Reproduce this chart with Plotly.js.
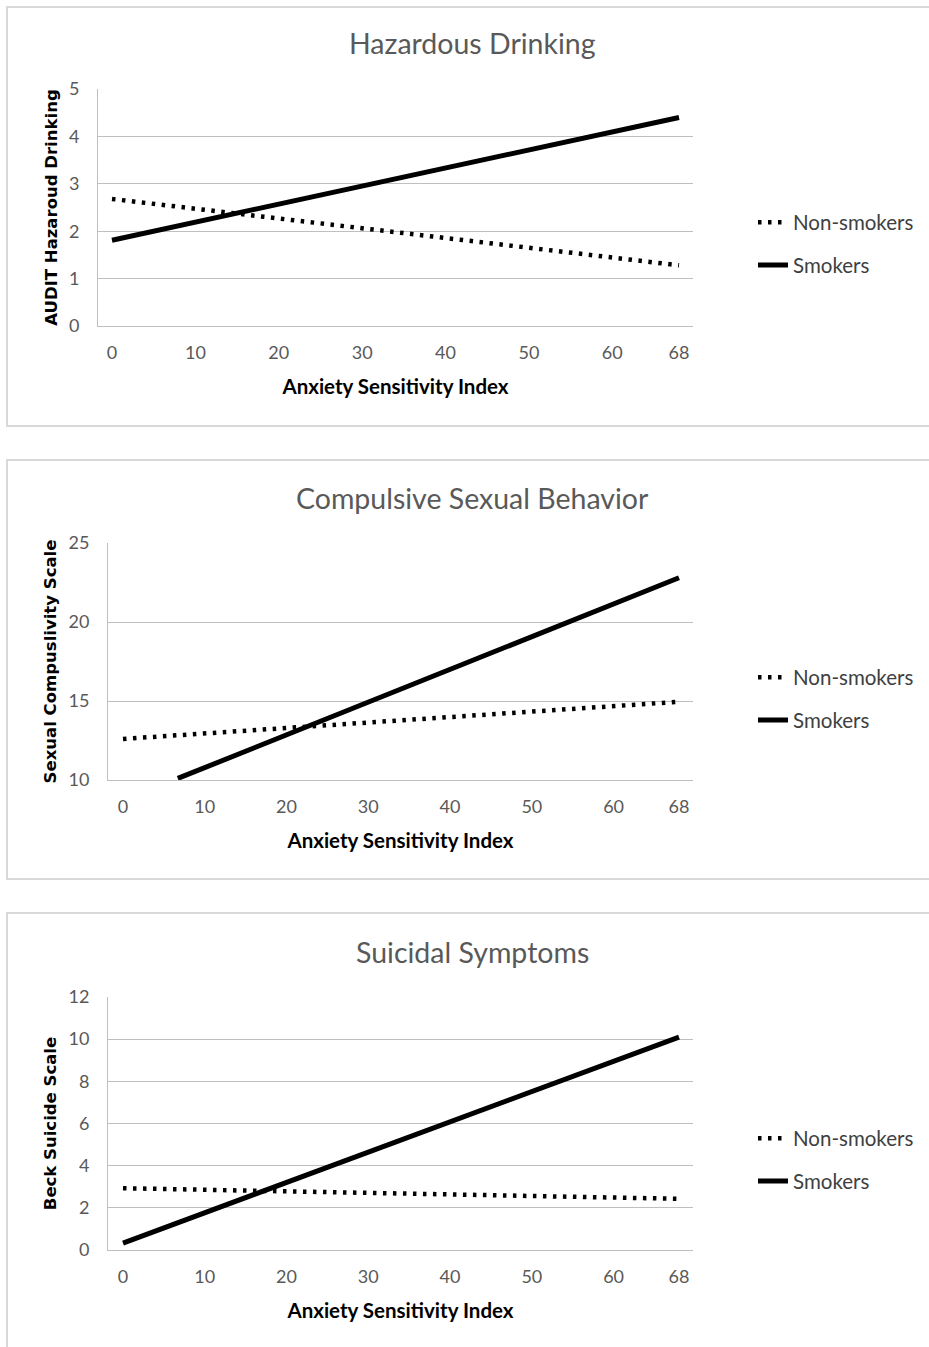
<!DOCTYPE html>
<html>
<head>
<meta charset="utf-8">
<script src="https://cdn.plot.ly/plotly-3.0.1.min.js"></script>
<style>html,body{margin:0;padding:0;background:#fff;}#chart{width:929px;height:1347px;}</style>
</head>
<body>
<div id="chart"></div>
<script>
// ---- data ----
const xTickVals = [0, 10, 20, 30, 40, 50, 60, 68];
const xTickText = ['0', '10', '20', '30', '40', '50', '60', '68'];
const seriesNames = ['Non-smokers', 'Smokers'];
const panelTitles = ['Hazardous Drinking', 'Compulsive Sexual Behavior', 'Suicidal Symptoms'];
const yTitles = ['AUDIT Hazaroud Drinking', 'Sexual Compuslivity Scale', 'Beck Suicide Scale'];
const xTitle = 'Anxiety Sensitivity Index';

const hdNonX = [0, 68];   const hdNonY = [2.68, 1.28];
const hdSmkX = [0, 68];   const hdSmkY = [1.81, 4.40];
const csbNonX = [0, 68];  const csbNonY = [12.6, 14.95];
const csbSmkX = [6.7, 68]; const csbSmkY = [10.1, 22.8];
const ssNonX = [0, 68];   const ssNonY = [2.93, 2.43];
const ssSmkX = [0, 68];   const ssSmkY = [0.33, 10.1];

const yRanges = [[0, 5], [10, 25], [0, 12]];
const yDticks = [1, 5, 2];

// ---- layout helpers ----
const W = 929, H = 1347;
const px = v => v / W;
const py = v => 1 - v / H;
const FONT = 'Lato, "Open Sans", sans-serif';
const YFONT = '"DejaVu Sans", Verdana, sans-serif';

const nonStyle = {color: '#000', width: 4.5, dash: '3.5px,6.5px'};
const smkStyle = {color: '#000', width: 5};

const data = [
  {x: hdNonX, y: hdNonY, name: seriesNames[0], line: nonStyle, xaxis: 'x', yaxis: 'y', legend: 'legend', legendgroup: 'a'},
  {x: hdSmkX, y: hdSmkY, name: seriesNames[1], line: smkStyle, xaxis: 'x', yaxis: 'y', legend: 'legend', legendgroup: 'b'},
  {x: csbNonX, y: csbNonY, name: seriesNames[0], line: nonStyle, xaxis: 'x2', yaxis: 'y2', legend: 'legend2', legendgroup: 'c'},
  {x: csbSmkX, y: csbSmkY, name: seriesNames[1], line: smkStyle, xaxis: 'x2', yaxis: 'y2', legend: 'legend2', legendgroup: 'd'},
  {x: ssNonX, y: ssNonY, name: seriesNames[0], line: nonStyle, xaxis: 'x3', yaxis: 'y3', legend: 'legend3', legendgroup: 'e'},
  {x: ssSmkX, y: ssSmkY, name: seriesNames[1], line: smkStyle, xaxis: 'x3', yaxis: 'y3', legend: 'legend3', legendgroup: 'f'}
].map(t => Object.assign({type: 'scatter', mode: 'lines', hoverinfo: 'skip'}, t));

// plot area geometry (pixels)
const areas = [
  {l: 98, r: 693, t: 89, b: 326, x0: 112, x68: 679},
  {l: 108, r: 693, t: 543, b: 780, x0: 123, x68: 679},
  {l: 108, r: 693, t: 997, b: 1250, x0: 123, x68: 679}
];

const layout = {
  width: W, height: H,
  margin: {l: 0, r: 0, t: 0, b: 0},
  paper_bgcolor: '#fff', plot_bgcolor: '#fff',
  font: {family: FONT, color: '#595959'},
  annotations: [],
  shapes: []
};

const titleY = [43, 498, 952];
const legendY = [244, 699, 1160];
const panelBoxes = [[7, 426], [460, 879], [913, 1400]];
const yStandoff = [7, 7, 7];

areas.forEach((a, i) => {
  const sfx = i === 0 ? '' : String(i + 1);
  const ppu = (a.x68 - a.x0) / 68;
  const xr = [-(a.x0 - a.l) / ppu, 68 + (a.r - a.x68) / ppu];
  layout['xaxis' + sfx] = {
    domain: [px(a.l), px(a.r)],
    anchor: 'y' + sfx,
    range: xr,
    tickmode: 'array', tickvals: xTickVals, ticktext: xTickText,
    showgrid: false, zeroline: false,
    showline: true, linecolor: '#bfbfbf', linewidth: 1,
    ticks: '', ticklabelstandoff: 10,
    tickfont: {family: FONT, size: 18, color: '#595959'},
    title: {text: xTitle, standoff: 18, font: {family: FONT, size: 20.5, color: '#000', weight: 'bold'}}
  };
  layout['yaxis' + sfx] = {
    domain: [py(a.b), py(a.t)],
    anchor: 'x' + sfx,
    range: yRanges[i], dtick: yDticks[i],
    showgrid: true, gridcolor: '#bfbfbf', gridwidth: 1,
    zeroline: false,
    showline: true, linecolor: '#bfbfbf', linewidth: 1,
    ticks: '', ticklabelstandoff: 14,
    tickfont: {family: FONT, size: 18, color: '#595959'},
    title: {text: yTitles[i], standoff: yStandoff[i], font: {family: YFONT, size: 16.5, color: '#000', weight: 'bold'}}
  };
  layout[i === 0 ? 'legend' : 'legend' + (i + 1)] = {
    x: px(753), y: py(legendY[i]), xanchor: 'left', yanchor: 'middle',
    font: {family: FONT, size: 20.5, color: '#404040'},
    bgcolor: 'rgba(0,0,0,0)', traceorder: 'grouped', tracegroupgap: 13, itemwidth: 30
  };
  layout.annotations.push({
    text: panelTitles[i], xref: 'paper', yref: 'paper',
    x: px(472), y: py(titleY[i]), xanchor: 'center', yanchor: 'middle',
    showarrow: false, font: {family: FONT, size: 28.5, color: '#595959'}
  });
  layout.shapes.push({
    type: 'rect', xref: 'paper', yref: 'paper',
    x0: px(7), x1: 1.05, y0: py(panelBoxes[i][1]), y1: py(panelBoxes[i][0]),
    line: {color: '#d9d9d9', width: 2}, fillcolor: 'rgba(0,0,0,0)', layer: 'below'
  });
});

Plotly.newPlot('chart', data, layout, {displayModeBar: false, staticPlot: true});
</script>
</body>
</html>
